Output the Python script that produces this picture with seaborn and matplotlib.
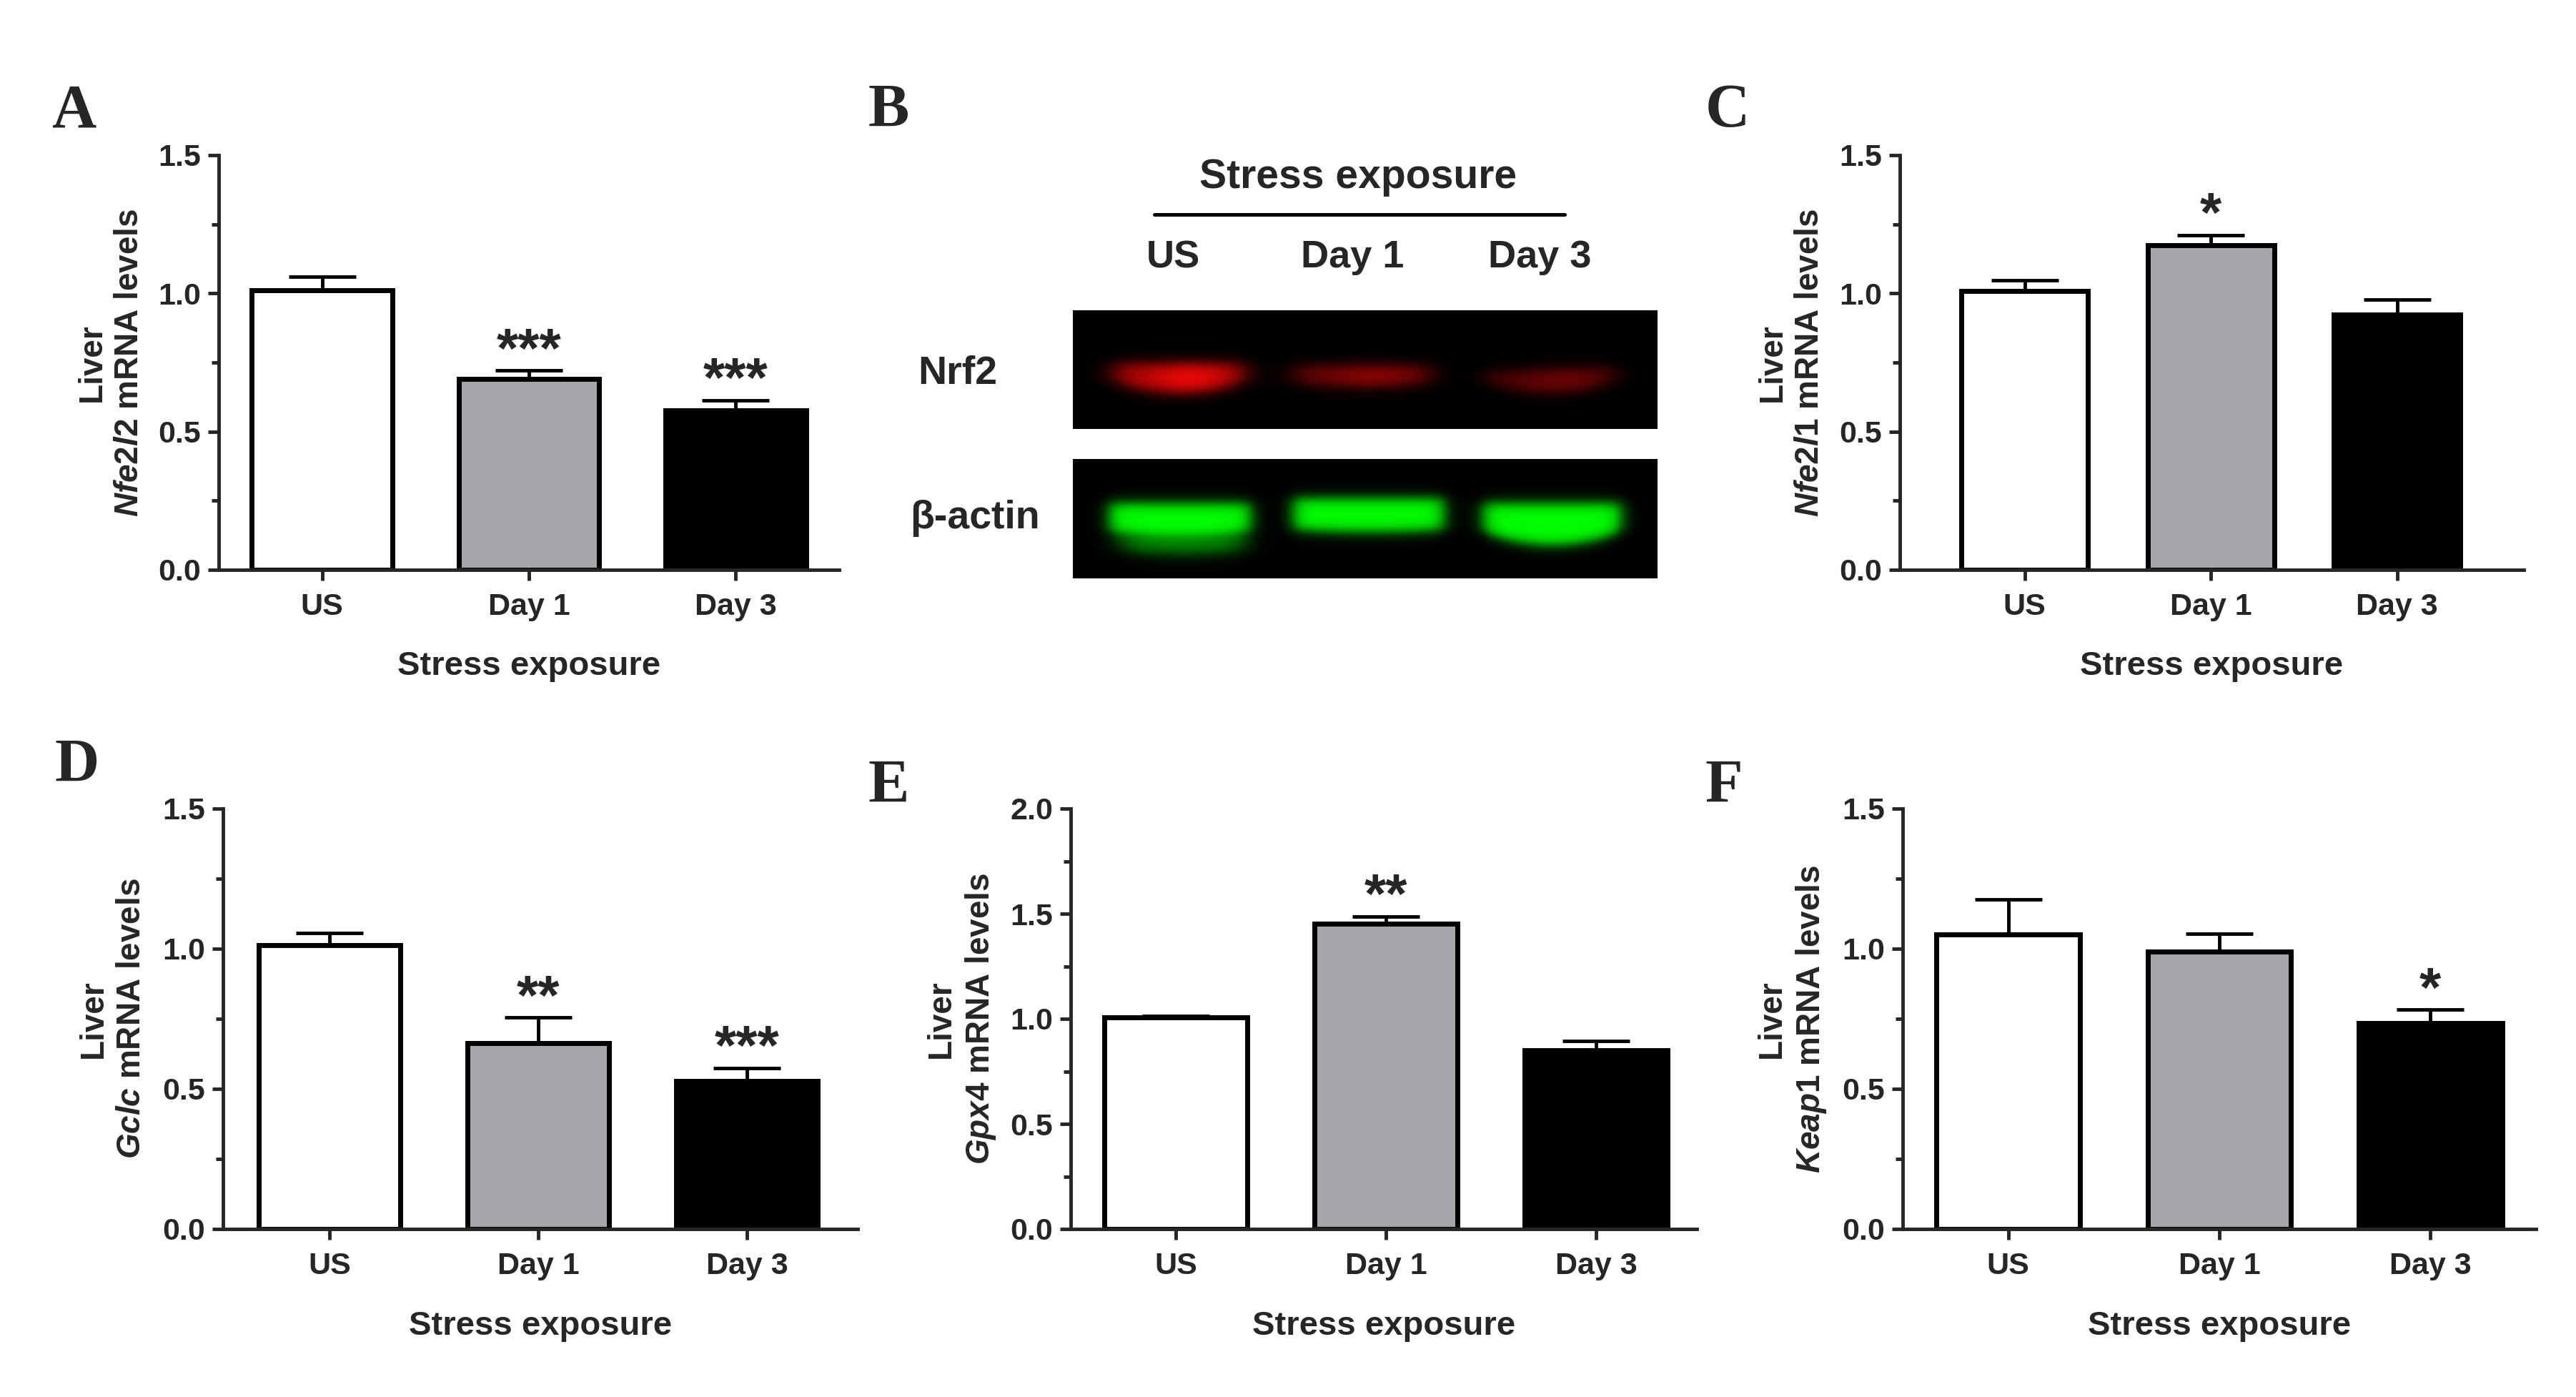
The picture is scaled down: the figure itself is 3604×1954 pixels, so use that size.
import numpy as np
import pandas as pd
import matplotlib
matplotlib.use("Agg")
import matplotlib.pyplot as plt
import seaborn as sns

# ---------------- data ----------------
categories = ["US", "Day 1", "Day 3"]
bar_colors = ["#ffffff", "#a6a5aa", "#000000"]

nfe2l2_mean = [1.010, 0.690, 0.577]
nfe2l2_sem = [0.050, 0.031, 0.037]
nfe2l2_sig = ["", "***", "***"]

nfe2l1_mean = [1.009, 1.174, 0.924]
nfe2l1_sem = [0.039, 0.037, 0.054]
nfe2l1_sig = ["", "*", ""]

gclc_mean = [1.014, 0.663, 0.529]
gclc_sem = [0.042, 0.091, 0.046]
gclc_sig = ["", "**", "***"]

gpx4_mean = [1.007, 1.453, 0.852]
gpx4_sem = [0.006, 0.035, 0.043]
gpx4_sig = ["", "**", ""]

keap1_mean = [1.050, 0.991, 0.734]
keap1_sem = [0.127, 0.062, 0.048]
keap1_sig = ["", "", "*"]

# western blot band intensities (relative)
blot_lanes = ["US", "Day 1", "Day 3"]
nrf2_band = [1.00, 0.62, 0.47]
actin_band = [1.00, 1.00, 1.00]
actin_lower_band = [0.55, 0.0, 0.0]

# ---------------- style ----------------
sns.set_style("ticks")
plt.rcParams["font.family"] = ["Liberation Sans", "DejaVu Sans"]
plt.rcParams["font.weight"] = "bold"
plt.rcParams["mathtext.fontset"] = "custom"
plt.rcParams["mathtext.it"] = "Liberation Sans:italic:bold"
plt.rcParams["mathtext.rm"] = "Liberation Sans:bold"
plt.rcParams["mathtext.bf"] = "Liberation Sans:bold"

W, H = 3605, 1954
fig = plt.figure(figsize=(W / 100, H / 100), dpi=100)
fig.patch.set_facecolor("white")


def add_ax(l, t, r, b):
    return fig.add_axes([l / W, 1 - b / H, (r - l) / W, (b - t) / H])


TICK_FS = 31
LAB_FS = 34
SPINE_LW = 3.5


def bar_panel(box, xlim, ymax, gene, means, sems, sigs):
    ax = add_ax(*box)
    df = pd.DataFrame({"group": categories, "value": means})
    sns.barplot(data=df, x="group", y="value", hue="group", palette=bar_colors,
                order=categories, hue_order=categories, width=0.68, saturation=1,
                edgecolor="black", linewidth=5, errorbar=None, legend=False,
                ax=ax, zorder=2)
    x = np.arange(len(categories))
    ax.errorbar(x, means, yerr=[np.zeros(len(means)), sems], fmt="none",
                ecolor="black", elinewidth=3.5, capsize=34, capthick=3.5,
                zorder=3, clip_on=False)
    for xi, m, s, sig in zip(x, means, sems, sigs):
        if sig:
            ax.text(xi, m + s + 0.012 * ymax / 1.5, sig, ha="center", va="baseline",
                    fontsize=56, fontweight="bold", zorder=4)
    ax.set_xlim(*xlim)
    ax.set_ylim(0, ymax)
    major = 0.5
    ax.set_yticks(np.arange(0, ymax + 1e-9, major))
    ax.set_yticks(np.arange(0.25, ymax, 0.5), minor=True)
    ax.set_yticklabels([f"{v:.1f}" for v in np.arange(0, ymax + 1e-9, major)])
    sns.despine(ax=ax)
    for sp in ["left", "bottom"]:
        ax.spines[sp].set_linewidth(SPINE_LW)
    ax.tick_params(axis="y", which="major", length=11, width=SPINE_LW, labelsize=TICK_FS, pad=7)
    ax.tick_params(axis="y", which="minor", length=7, width=SPINE_LW)
    ax.tick_params(axis="x", which="major", length=11, width=SPINE_LW, labelsize=TICK_FS, pad=12)
    for lab in ax.get_xticklabels() + ax.get_yticklabels():
        lab.set_fontweight("bold")
    ax.set_xlabel("Stress exposure", fontsize=LAB_FS, fontweight="bold", va="center")
    ax.xaxis.set_label_coords(0.5, -0.232)
    ax.set_ylabel("Liver\n$\\mathit{" + gene + "}$ mRNA levels", fontsize=LAB_FS - 1,
                  fontweight="bold", va="center", ha="center", linespacing=1.25)
    ax.yaxis.set_label_coords(-0.174, 0.5)
    ax.set_facecolor("none")
    return ax


bar_panel((306, 217, 1174, 797), (-0.5, 2.5), 1.5, "Nfe2l2", nfe2l2_mean, nfe2l2_sem, nfe2l2_sig)
bar_panel((2658, 217, 3531, 797), (-0.67, 2.68), 1.5, "Nfe2l1", nfe2l1_mean, nfe2l1_sem, nfe2l1_sig)
bar_panel((312, 1131, 1200, 1719), (-0.51, 2.53), 1.5, "Gclc", gclc_mean, gclc_sem, gclc_sig)
bar_panel((1498, 1131, 2374, 1719), (-0.5, 2.48), 2.0, "Gpx4", gpx4_mean, gpx4_sem, gpx4_sig)
bar_panel((2662, 1131, 3548, 1719), (-0.5, 2.5), 1.5, "Keap1", keap1_mean, keap1_sem, keap1_sig)

# ---------------- western blot (panel B) ----------------
IH, IW = 167, 818
yy, xx = np.mgrid[0:1:IH * 1j, 0:1:IW * 1j]


def sig(z):
    return 1.0 / (1.0 + np.exp(-z))


def band(xc, hw, top, bot, dip, sx, sy, top_tilt=0.0):
    u = np.clip((xx - xc) / hw, -1.2, 1.2)
    bottom = bot + dip * np.clip(1 - u ** 2, 0, None)
    topc = top + top_tilt * (-u)
    px = sig((hw - np.abs(xx - xc)) / sx)
    py = sig((yy - topc) / sy) * sig((bottom - yy) / sy)
    return px * py


# Nrf2 (red): lane geometry (xc, half-width, top, bottom, dip, top tilt)
nrf2_geom = [(0.182, 0.113, 0.45, 0.61, 0.08, 0.0),
             (0.496, 0.118, 0.47, 0.61, 0.03, 0.0),
             (0.817, 0.112, 0.50, 0.61, 0.08, 0.02)]
nrf2_img = np.zeros((IH, IW, 3))
for (xc, hw, top, bot, dip, tilt), inten in zip(nrf2_geom, nrf2_band):
    m = band(xc, hw, top, bot, dip, 0.013, 0.032, tilt)
    core = 0.72 + 0.28 * np.exp(-(((xx - xc - 0.02) / hw) ** 2) * 2.5)
    b = m * core * inten
    nrf2_img[..., 0] += 0.93 * b
    nrf2_img[..., 1] += 0.03 * b
    nrf2_img[..., 2] += 0.03 * b
nrf2_img = np.clip(nrf2_img, 0, 1)

# beta-actin (green)
actin_geom = [(0.183, 0.121, 0.37, 0.61, 0.03),
              (0.506, 0.129, 0.33, 0.59, 0.02),
              (0.820, 0.118, 0.37, 0.61, 0.11)]
actin_img = np.zeros((IH, IW, 3))
for (xc, hw, top, bot, dip), inten, low in zip(actin_geom, actin_band, actin_lower_band):
    m = band(xc, hw, top, bot, dip, 0.008, 0.03) * inten
    actin_img[..., 1] += m
    if low > 0:
        lm = band(xc + 0.005, hw * 0.88, bot + 0.04, bot + 0.15, 0.03, 0.013, 0.035)
        actin_img[..., 1] += lm * low
actin_img = np.clip(actin_img, 0, 1)

ax_b1 = add_ax(1501, 434, 2319, 600)
ax_b1.imshow(nrf2_img, aspect="auto", interpolation="bilinear")
ax_b1.set_axis_off()
ax_b2 = add_ax(1501, 642, 2319, 809)
ax_b2.imshow(actin_img, aspect="auto", interpolation="bilinear")
ax_b2.set_axis_off()

fig.text(1900 / W, 1 - 248 / H, "Stress exposure", ha="center", va="center",
         fontsize=41, fontweight="bold")
fig.add_artist(plt.Line2D([1615 / W, 2189 / W], [1 - 300 / H, 1 - 300 / H],
                          color="black", lw=3.6))
for name, xc in zip(blot_lanes, [1641, 1892, 2154]):
    fig.text(xc / W, 1 - 360 / H, name, ha="center", va="center", fontsize=39,
             fontweight="bold")
fig.text(1340 / W, 1 - 523 / H, "Nrf2", ha="center", va="center", fontsize=40,
         fontweight="bold")
fig.text(1364 / W, 1 - 725 / H, "\u03b2-actin", ha="center", va="center", fontsize=40,
         fontweight="bold")

# ---------------- panel letters ----------------
letters = [("A", 72, 177), ("B", 1215, 177), ("C", 2386, 177),
           ("D", 77, 1093), ("E", 1215, 1122), ("F", 2386, 1122)]
for let, lx, ly in letters:
    fig.text(lx / W, 1 - ly / H, let, ha="left", va="baseline", fontsize=62,
             fontweight="bold", family=["Liberation Serif", "DejaVu Serif"])

fig.savefig("out.png", dpi=100, facecolor="white")
